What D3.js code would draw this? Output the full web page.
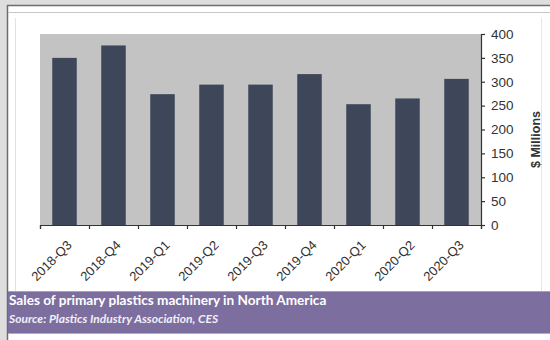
<!DOCTYPE html>
<html>
<head>
<meta charset="utf-8">
<script src="https://cdn.jsdelivr.net/npm/d3@7"></script>
<style>
  html, body { margin: 0; padding: 0; background: #fff; }
  svg { display: block; font-family: "Liberation Sans", Arial, sans-serif; }
</style>
</head>
<body>
<div id="chart"></div>
<script>
const quarters = ["2018-Q3", "2018-Q4", "2019-Q1", "2019-Q2", "2019-Q3", "2019-Q4", "2020-Q1", "2020-Q2", "2020-Q3"]
const sales = [350, 376, 274, 294, 294, 316, 253, 265, 306]
const yTicks = [0, 50, 100, 150, 200, 250, 300, 350, 400]
const yTitle = "$ Millions"
const caption = "Sales of primary plastics machinery in North America"
const source = "Source: Plastics Industry Association, CES"

const W = 550, H = 340
const plot = { left: 40, right: 481, top: 34, bottom: 225 }

const svg = d3.select("#chart").append("svg").attr("width", W).attr("height", H)

drawFrame()
drawChart()
drawCaption()

function drawFrame() {
    // outer grey page and the dark border of the slide
    svg.append("rect").attr("width", W).attr("height", H).attr("fill", "#dedede")
    svg.append("rect").attr("x", 7).attr("y", 5).attr("width", W - 7).attr("height", H - 5).attr("fill", "#fff")
    svg.append("line").attr("x1", 7).attr("x2", W).attr("y1", 5.5).attr("y2", 5.5).attr("stroke", "#6e6e6e").attr("stroke-width", 1.5)
    svg.append("line").attr("x1", 7.5).attr("x2", 7.5).attr("y1", 5).attr("y2", H).attr("stroke", "#6e6e6e").attr("stroke-width", 1.5)
    svg.append("line").attr("x1", 8).attr("x2", W).attr("y1", 12.5).attr("y2", 12.5).attr("stroke", "#c6c6c6").attr("stroke-width", 1.2)
    svg.append("line").attr("x1", 15.5).attr("x2", 15.5).attr("y1", 18).attr("y2", 291).attr("stroke", "#e2e2e2")
    svg.append("line").attr("x1", 541.5).attr("x2", 541.5).attr("y1", 18).attr("y2", 291).attr("stroke", "#e6e6e6")
}

function drawChart() {
    const x = d3.scaleBand().domain(quarters).range([plot.left, plot.right]).paddingInner(0.5).paddingOuter(0.25)
    const y = d3.scaleLinear().domain([0, 400]).range([plot.bottom, plot.top])

    svg.append("rect")
        .attr("x", plot.left).attr("y", y(400))
        .attr("width", plot.right - plot.left).attr("height", y(0) - y(400))
        .attr("fill", "#c3c3c3")

    svg.append("g").selectAll("rect").data(sales).join("rect")
        .attr("x", (d, i) => x(quarters[i]))
        .attr("y", d => y(d))
        .attr("width", x.bandwidth())
        .attr("height", d => y(0) - y(d))
        .attr("fill", "#3e4759")

    // y axis on the right
    const yAxis = svg.append("g").attr("transform", `translate(${plot.right},0)`)
        .call(d3.axisRight(y).tickValues(yTicks).tickSize(4).tickPadding(6).tickSizeOuter(4))
    yAxis.selectAll("text").attr("font-size", 13.5).attr("fill", "#333")

    // x axis ticks sit on the category boundaries
    const edges = d3.scaleLinear().domain([0, quarters.length]).range([plot.left, plot.right])
    svg.append("g").attr("transform", `translate(0,${plot.bottom})`)
        .call(d3.axisBottom(edges).ticks(quarters.length).tickFormat("").tickSize(4).tickSizeOuter(4))

    const xAxis = svg.append("g").attr("transform", `translate(0,${plot.bottom})`)
        .call(d3.axisBottom(x).tickSize(0))
    xAxis.select(".domain").remove()
    xAxis.selectAll("text")
        .attr("font-size", 13).attr("fill", "#333")
        .attr("text-anchor", "end")
        .attr("x", 0).attr("y", 0).attr("dy", 0)
        .attr("transform", "translate(8,21) rotate(-45)")

    svg.selectAll(".domain, .tick line").attr("stroke", "#333").attr("stroke-width", 1.2)

    svg.append("text")
        .attr("transform", `translate(540,${(plot.top + plot.bottom) / 2 + 10}) rotate(-90)`)
        .attr("text-anchor", "middle")
        .attr("font-size", 12.5).attr("font-weight", "bold").attr("fill", "#333")
        .text(yTitle)
}

function drawCaption() {
    svg.append("rect").attr("x", 8).attr("y", 291).attr("width", W - 8).attr("height", 43).attr("fill", "#7c6e9e")
    svg.append("line").attr("x1", 8).attr("x2", W).attr("y1", 291.5).attr("y2", 291.5).attr("stroke", "#a89ec4")
    svg.append("line").attr("x1", 8).attr("x2", W).attr("y1", 333.5).attr("y2", 333.5).attr("stroke", "#b3aacb")

    svg.append("text").attr("x", 9).attr("y", 305)
        .attr("font-family", "Lato, 'Open Sans', sans-serif").attr("font-weight", "bold").attr("font-size", 13.6)
        .attr("fill", "#fff").text(caption)
    svg.append("text").attr("x", 9).attr("y", 323)
        .attr("font-family", "Lato, 'Open Sans', sans-serif").attr("font-weight", "bold").attr("font-style", "italic")
        .attr("font-size", 12).attr("fill", "#f2eff8").text(source)
}
</script>
</body>
</html>
